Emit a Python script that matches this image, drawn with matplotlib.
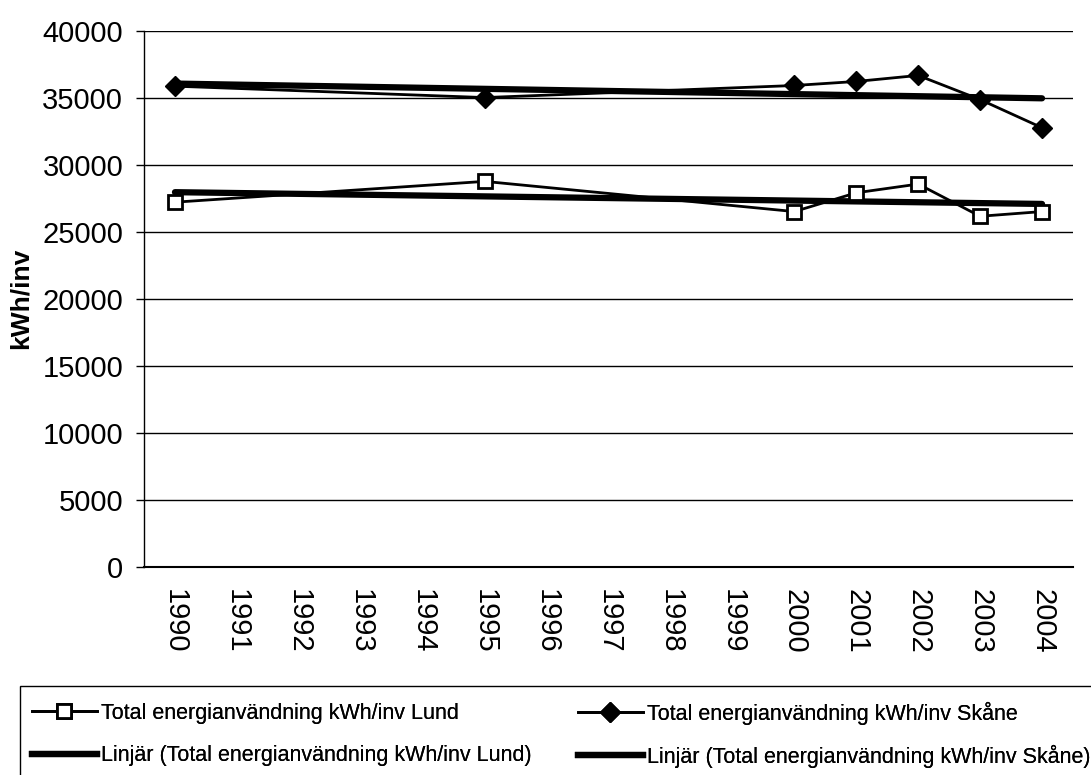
import numpy as np
import matplotlib
matplotlib.use("Agg")
import matplotlib.pyplot as plt
from matplotlib.lines import Line2D
from matplotlib.patches import Rectangle

plt.rcParams['font.family'] = ['Liberation Sans', 'DejaVu Sans']

years = [str(y) for y in range(1990, 2005)]
data_years = [1990, 1995, 2000, 2001, 2002, 2003, 2004]
lund = [27200, 28750, 26500, 27900, 28550, 26150, 26500]
skane = [35850, 35000, 35900, 36200, 36650, 34850, 32750]

label_lund = "Total energianvändning kWh/inv Lund"
label_skane = "Total energianvändning kWh/inv Skåne"
label_tl = "Linjär (Total energianvändning kWh/inv Lund)"
label_ts = "Linjär (Total energianvändning kWh/inv Skåne)"

W, H = 1091, 775
fig = plt.figure(figsize=(W / 100, H / 100), dpi=100)
ax = fig.add_axes([144 / W, 1 - 567 / H, (1073 - 144) / W, (567 - 30.5) / H])

xi = np.array([y - 1990 for y in data_years], dtype=float)

pl = np.polyfit(xi, lund, 1)
ps = np.polyfit(xi, skane, 1)
xt = np.array([0, len(years) - 1], dtype=float)
ax.plot(xt, np.polyval(pl, xt), color='black', lw=4.5, solid_capstyle='round', zorder=3)
ax.plot(xt, np.polyval(ps, xt), color='black', lw=4.5, solid_capstyle='round', zorder=3)

ax.plot(xi, lund, color='black', lw=2.0, marker='s', markersize=10.5,
        markerfacecolor='white', markeredgecolor='black', markeredgewidth=2.0, zorder=4)
ax.plot(xi, skane, color='black', lw=2.0, marker='D', markersize=10,
        markerfacecolor='black', markeredgecolor='black', zorder=4)

ax.set_xlim(-0.5, len(years) - 0.5)
ax.set_ylim(0, 40000)
ax.set_yticks(range(0, 40001, 5000))
ax.set_xticks(range(len(years)))
ax.set_xticklabels(years, rotation=-90, ha='center', va='top')
ax.tick_params(axis='x', length=0, pad=16, labelsize=21)
ax.tick_params(axis='y', length=6, width=1, pad=9, labelsize=21, direction='out')
ax.yaxis.grid(True, color='black', lw=1.0)
ax.set_axisbelow(True)
for s in ['top', 'right']:
    ax.spines[s].set_visible(False)
ax.spines['left'].set_linewidth(1.0)
ax.spines['bottom'].set_linewidth(1.5)
ax.set_ylabel("kWh/inv", fontsize=19, fontweight='bold')
ax.yaxis.set_label_coords((33 - 144) / 929, 0.5)

# legend
fig.patches.append(Rectangle((20 / W, -0.05), (1100 - 20) / W, 1 - 686 / H + 0.05,
                             transform=fig.transFigure, fill=False, edgecolor='black', lw=1.0))
h_lund = Line2D([], [], color='black', lw=2.0, marker='s', markersize=10,
                markerfacecolor='white', markeredgewidth=2.0)
h_sk = Line2D([], [], color='black', lw=2.0, marker='D', markersize=10)
h_tl = Line2D([], [], color='black', lw=4.5)
h_ts = Line2D([], [], color='black', lw=4.5)
leg_kw = dict(frameon=False, fontsize=15.5, handlelength=3.0, handletextpad=0.2,
              loc='center left', borderpad=0, borderaxespad=0)
entries = [
    (h_lund, label_lund, 32, 713),
    (h_tl, label_tl, 32, 756),
    (h_sk, label_skane, 578, 713),
    (h_ts, label_ts, 578, 756),
]
for h, lab, x, y in entries:
    lg = fig.legend([h], [lab], bbox_to_anchor=(x / W, 1 - y / H), **leg_kw)
    fig.add_artist(lg)

fig.savefig("out.png", dpi=100)
